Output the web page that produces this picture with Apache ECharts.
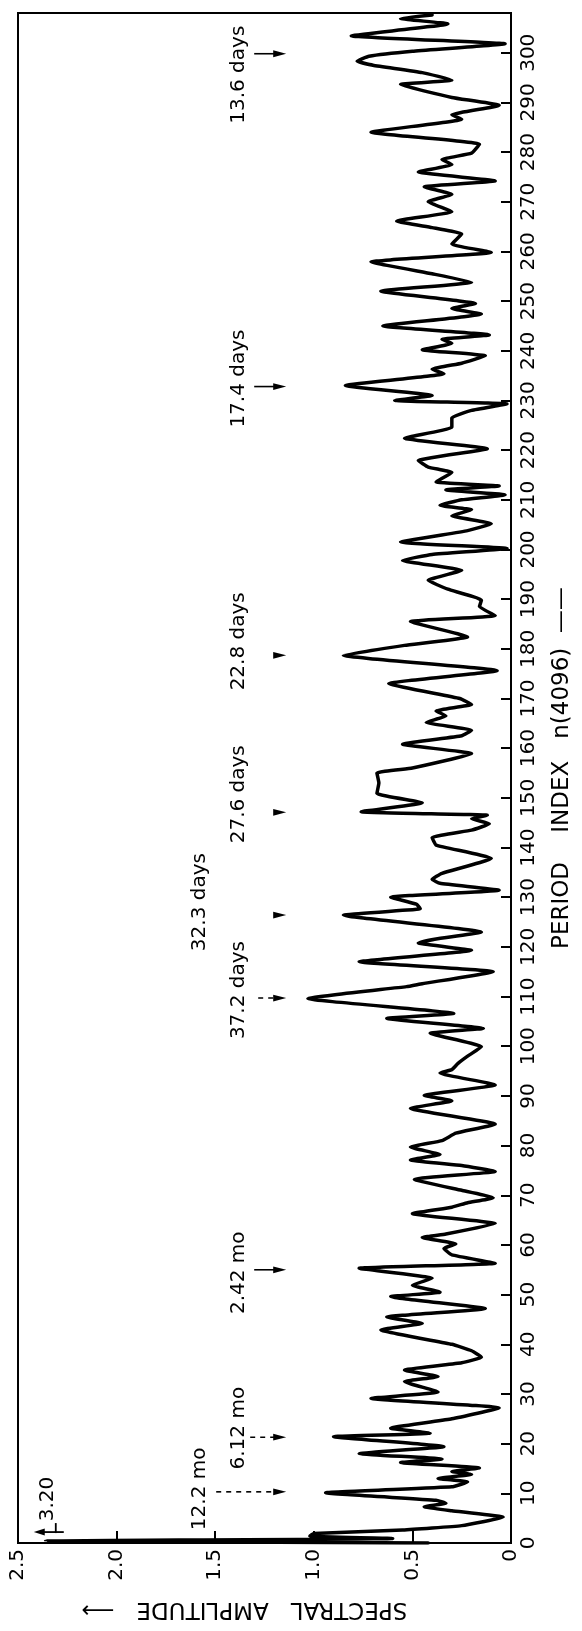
<!DOCTYPE html>
<html><head><meta charset="utf-8">
<script src="https://cdn.jsdelivr.net/npm/echarts/dist/echarts.min.js"></script>
<style>html,body{margin:0;padding:0;background:#fff}#c{width:582px;height:1631px}</style>
</head><body><div id="c"></div>
<script>
// Period index n(4096) of each traced point
const periodIndex = [
0,0.4,0.9,1.4,1.9,2.6,3.5,5.2,6.5,7.3,8.0,8.6,10.1,11.3,12.3,13.0,13.8,14.4,15.1,16.2,16.9,18.0,19.4,21.4,22.1,23.1,25.0,27.2,
29.1,30.4,32.5,33.5,34.8,36.3,37.4,38.7,40.0,42.9,44.2,45.5,47.2,49.6,50.5,51.9,53.3,55.3,56.3,58.0,59.3,60.2,61.5,62.2,64.3,
66.3,67.6,68.5,69.5,71.0,73.2,74.8,76.0,77.1,78.2,79.7,81.0,82.5,84.3,87.5,89.0,90.1,92.2,94.6,95.3,96.5,98.0,99.9,102.6,103.6,
105.6,106.6,109.6,112.0,112.6,115.0,117.0,119.3,120.8,121.6,123.0,126.4,127.7,128.6,130.0,131.4,132.8,133.6,134.8,137.8,140.5,
142.0,143.5,144.8,145.8,146.5,147.2,149.0,150.9,153.0,155.0,156.0,158.9,160.8,162.5,163.6,165.2,166.5,167.5,168.8,170.0,173.0,
175.6,178.7,180.7,182.4,185.5,186.7,188.5,189.8,192.0,193.8,195.8,197.8,199.0,200.2,201.5,203.8,205.2,206.8,208.0,208.9,210.0,
211.0,212.0,212.8,213.6,215.5,216.6,217.9,220.3,222.4,224.6,226.5,228.0,229.3,230.0,231.0,233.0,235.4,236.3,237.5,239.0,240.2,
241.5,242.3,243.2,245.0,247.4,248.5,249.5,252.0,253.8,255.5,257.9,259.8,261.5,263.5,264.8,266.1,268.0,270.0,271.5,273.0,274.2,
276.0,277.5,278.5,279.8,281.6,284.0,286.6,287.5,289.4,291.0,293.6,294.5,296.0,297.5,298.3,299.3,300.3,301.8,303.4,305.8,306.9,307.6
];
// Spectral amplitude at each point
const amplitude = [
0.42,2.36,0.6,1.02,1.0,0.55,0.25,0.04,0.3,0.44,0.33,0.38,0.94,0.3,0.22,0.37,0.2,0.3,0.16,0.56,0.35,0.77,0.34,0.90,0.41,0.61,0.3,0.06,
0.71,0.37,0.54,0.37,0.54,0.25,0.15,0.2,0.3,0.66,0.45,0.63,0.13,0.61,0.36,0.5,0.4,0.77,0.08,0.3,0.34,0.28,0.45,0.33,0.08,
0.5,0.3,0.22,0.09,0.25,0.49,0.08,0.25,0.51,0.36,0.51,0.35,0.28,0.08,0.51,0.3,0.44,0.08,0.36,0.3,0.27,0.22,0.15,0.41,0.14,
0.63,0.29,1.03,0.53,0.45,0.09,0.77,0.2,0.47,0.38,0.15,0.85,0.46,0.48,0.61,0.06,0.36,0.4,0.35,0.1,0.38,
0.4,0.2,0.11,0.2,0.12,0.76,0.45,0.68,0.67,0.68,0.5,0.2,0.55,0.25,0.2,0.43,0.33,0.38,0.2,0.26,0.62,
0.07,0.85,0.54,0.22,0.51,0.08,0.16,0.15,0.32,0.42,0.25,0.55,0.4,0.02,0.56,0.22,0.1,0.3,0.2,0.36,0.25,
0.03,0.33,0.06,0.38,0.3,0.42,0.47,0.12,0.54,0.3,0.3,0.2,0.02,0.59,0.4,0.84,0.34,0.4,0.25,0.13,0.45,
0.3,0.35,0.11,0.65,0.15,0.3,0.18,0.66,0.2,0.4,0.71,0.1,0.3,0.25,0.4,0.58,0.3,0.42,0.3,0.44,0.08,
0.47,0.3,0.35,0.2,0.16,0.71,0.25,0.3,0.06,0.3,0.56,0.3,0.45,0.7,0.78,0.72,0.5,0.03,0.81,0.32,0.56,0.4
];
const amplitudeTicks = [0, 0.5, 1.0, 1.5, 2.0, 2.5];
// Marked periods
const markerIndex = [10.3, 21.3, 55.0, 109.7, 126.4, 147.1, 178.7, 232.8, 299.8];
const markerLabel = ['12.2 mo','6.12 mo','2.42 mo','37.2 days','32.3 days','27.6 days','22.8 days','17.4 days','13.6 days'];
// Off-scale spike value
const offScaleIndex = [2.2];
const offScaleLabel = ['3.20'];

// ---- styling (pixel offsets, line kinds) ----
const FONT = '"DejaVu Sans", sans-serif';
const markerStyle = {
  '12.2 mo':  {lane:1, dy:-3,  line:'dash', len:70},
  '6.12 mo':  {lane:0, dy:-9,  line:'dash', len:36},
  '2.42 mo':  {lane:0, dy:3,   line:'solid', len:32},
  '37.2 days':{lane:0, dy:-8,  line:'dash', len:28},
  '32.3 days':{lane:1, dy:-13, line:null},
  '27.6 days':{lane:0, dy:-18, line:null},
  '22.8 days':{lane:0, dy:-14, line:null},
  '17.4 days':{lane:0, dy:-8,  line:'solid', len:32},
  '13.6 days':{lane:0, dy:21,  line:'solid', len:32}
};
const TIP_AMP = 1.14;

const chart = echarts.init(document.getElementById('c'), null, {renderer:'canvas'});
const lineData = periodIndex.map((n,i)=>[amplitude[i], n]);

chart.setOption({
  animation:false,
  backgroundColor:'#fff',
  grid:{left:18, right:66, top:13, bottom:88, show:true, borderColor:'#000', borderWidth:2},
  xAxis:{
    type:'value', inverse:true, min:0, max:2.5, interval:0.5, position:'bottom',
    axisLine:{show:true, lineStyle:{color:'#000', width:2}},
    axisTick:{show:true, inside:true, length:12, lineStyle:{color:'#000', width:2}},
    splitLine:{show:false},
    axisLabel:{rotate:90, margin:6, fontSize:20, fontFamily:FONT, color:'#000',
      formatter:v=> amplitudeTicks.indexOf(v)<0 ? '' : (v===0?'0':v.toFixed(1))},
    name:'SPECTRAL   AMPLITUDE   \u27F6', nameLocation:'middle', nameRotate:180, nameGap:54,
    nameTextStyle:{fontSize:23, fontFamily:FONT, color:'#000', padding:[0,0,0,40]}
  },
  yAxis:{
    type:'value', position:'right', min:0, max:308, interval:10,
    axisLine:{show:true, lineStyle:{color:'#000', width:2}},
    axisTick:{show:true, inside:true, length:10, lineStyle:{color:'#000', width:2}},
    splitLine:{show:false},
    axisLabel:{rotate:90, margin:8, fontSize:20, fontFamily:FONT, color:'#000', showMaxLabel:false,
      formatter:v=> v%10===0 ? String(v) : ''},
    name:'PERIOD    INDEX   n(4096)  \u2014\u2014', nameLocation:'middle', nameRotate:90, nameGap:40,
    nameTextStyle:{fontSize:23, fontFamily:FONT, color:'#000', padding:[0,0,0,20]}
  },
  series:[
    {type:'line', data:lineData, showSymbol:false, clip:true, smooth:0.12,
     lineStyle:{color:'#000', width:3.5, join:'round', cap:'round'}, z:3},
    {type:'custom', coordinateSystem:'cartesian2d', z:4,
     data:markerIndex.map((n,i)=>[TIP_AMP, n, i]),
     encode:{x:0, y:1},
     renderItem:function(params, api){
       const i = api.value(2);
       const p = api.coord([api.value(0), api.value(1)]);
       const st = markerStyle[markerLabel[i]];
       const tx = p[0], ty = p[1];
       const ch = [];
       if (st.line) {
         ch.push({type:'line', shape:{x1:tx-st.len, y1:ty, x2:tx-8, y2:ty},
           style:{stroke:'#000', lineWidth:1.6, lineDash: st.line==='dash'?[5,5]:null}});
       }
       ch.push({type:'polygon', shape:{points:[[tx,ty],[tx-13,ty-3.4],[tx-13,ty+3.4]]}, style:{fill:'#000'}});
       ch.push({type:'text', x:tx-(st.lane?86:47), y:ty+st.dy, rotation:Math.PI/2,
         style:{text:markerLabel[i], fontSize:20, fontFamily:FONT, fill:'#000',
           align:'center', verticalAlign:'middle', textAlign:'center', textVerticalAlign:'middle'}});
       return {type:'group', children:ch};
     }
    },
    {type:'custom', coordinateSystem:'cartesian2d', z:4,
     data:offScaleIndex.map((n,i)=>[2.42, n, i]),
     encode:{x:0, y:1},
     renderItem:function(params, api){
       const i = api.value(2);
       const p = api.coord([api.value(0), api.value(1)]);
       const tx = p[0], ty = p[1];
       return {type:'group', children:[
         {type:'line', shape:{x1:tx+30, y1:ty, x2:tx+8, y2:ty}, style:{stroke:'#000', lineWidth:1.8}},
         {type:'polygon', shape:{points:[[tx,ty],[tx+11,ty-3.5],[tx+11,ty+3.5]]}, style:{fill:'#000'}},
         {type:'line', shape:{x1:tx+22, y1:ty-9, x2:tx+22, y2:ty+1}, style:{stroke:'#000', lineWidth:1.8}},
         {type:'text', x:tx+14, y:ty-33, rotation:Math.PI/2,
          style:{text:offScaleLabel[i], fontSize:20, fontFamily:FONT, fill:'#000',
            align:'center', verticalAlign:'middle', textAlign:'center', textVerticalAlign:'middle'}}
       ]};
     }
    }
  ]
});
</script></body></html>
